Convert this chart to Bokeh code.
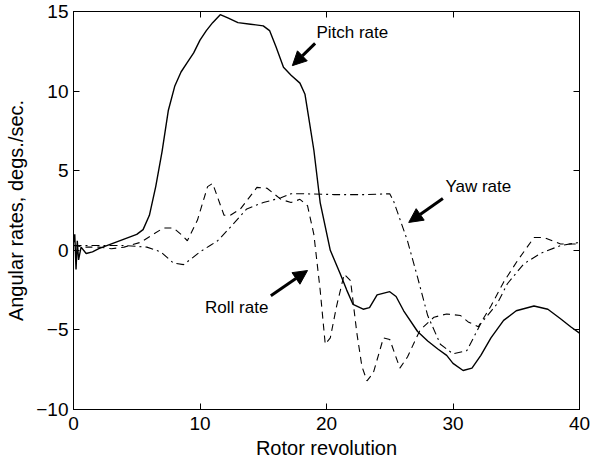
from bokeh.plotting import figure
from bokeh.models import (FixedTicker, LinearAxis, Label, Arrow, NormalHead,
                          Range1d, CustomLabelingPolicy)
from bokeh.embed import file_html
from bokeh.resources import INLINE

FONT = "Liberation Sans"

# ---- data ----
pitch_x = [0, 0.1, 0.2, 0.3, 0.4, 0.6, 1.0, 1.5, 2, 3, 4, 5, 5.5, 6, 6.5, 7, 7.5,
           8, 8.5, 9, 9.5, 10, 10.5, 11, 11.6, 12.2, 13, 14, 15, 15.5, 16, 16.6,
           17.2, 17.9, 18.3, 18.6, 19, 19.5, 20.3, 21.1, 21.6, 22.1, 22.9, 23.4,
           24, 25, 25.5, 26.1, 27.2, 28, 28.8, 29.5, 30, 30.8, 31.5, 32.2, 33,
           34, 35, 36.4, 37.5, 38.5, 39.3, 40]
pitch_y = [0.5, 1.0, -1.2, 0.6, -0.6, 0.2, -0.2, -0.1, 0.1, 0.4, 0.7, 1.0, 1.3,
           2.2, 4.0, 6.2, 8.8, 10.3, 11.2, 11.8, 12.4, 13.2, 13.8, 14.3, 14.8,
           14.6, 14.3, 14.2, 14.1, 13.8, 12.8, 11.5, 11.0, 10.5, 9.8, 8.3, 6.3,
           3.0, 0.0, -1.5, -2.5, -3.4, -3.7, -3.6, -2.8, -2.6, -2.9, -3.8, -5.1,
           -5.7, -6.2, -6.6, -7.1, -7.55, -7.4, -6.6, -5.5, -4.4, -3.8, -3.5,
           -3.7, -4.3, -4.8, -5.2]

roll_x = [0, 1, 2, 3, 4, 5.3, 6.3, 7.1, 7.9, 8.5, 9.0, 9.8, 10.6, 11.0, 11.9,
          12.4, 13.2, 14.5, 15.3, 16.4, 17.2, 17.9, 18.5, 19.0, 19.5, 19.9, 20.3,
          20.8, 21.4, 21.9, 22.4, 22.8, 23.2, 23.7, 24.5, 25.0, 25.8, 26.4, 27.4,
          28.5, 29.5, 30.6, 31.2, 32.0, 33.0, 34.0, 35.1, 36.4, 37.2, 38.5, 40]
roll_y = [0.3, 0.2, 0.2, 0.1, 0.2, 0.5, 1.0, 1.4, 1.4, 1.0, 0.6, 1.9, 4.0, 4.2,
          2.2, 2.2, 2.6, 3.95, 3.9, 3.2, 3.0, 3.2, 2.8, 1.0, -2.5, -5.9, -5.5,
          -3.5, -1.5, -1.9, -5.2, -7.3, -8.2, -7.7, -5.5, -5.6, -7.4, -6.7,
          -5.0, -4.2, -4.0, -4.1, -4.5, -4.8, -3.5, -2.0, -0.65, 0.8, 0.8, 0.4,
          0.4]

yaw_x = [0, 2, 4, 5.8, 6.9, 7.9, 8.7, 9.2, 10.0, 10.8, 11.4, 12.4, 13.7, 15.0,
         16.4, 17.2, 18.2, 20.6, 23, 25.0, 25.3, 26.4, 27.2, 28.0, 29.0, 30.0,
         31.1, 32.2, 33.5, 34.3, 35.6, 36.9, 38.5, 40]
yaw_y = [0.3, 0.3, 0.3, 0.2, -0.1, -0.8, -0.9, -0.6, -0.1, 0.3, 0.6, 1.45, 2.6,
         3.0, 3.3, 3.55, 3.55, 3.5, 3.5, 3.55, 3.1, 0.6, -1.7, -4.1, -5.9, -6.5,
         -6.3, -4.6, -3.35, -2.1, -0.85, -0.2, 0.3, 0.5]

x_ticks = [0, 10, 20, 30, 40]
y_ticks = [-10, -5, 0, 5, 10, 15]
y_tick_labels = {-10: "\u221210", -5: "\u22125", 0: "0", 5: "5", 10: "10", 15: "15"}

# annotations: (text, text x, text y, arrow tail x, tail y, head x, head y)
notes = [
    ("Pitch rate", 19.2, 13.65, 19.1, 13.0, 17.3, 11.6),
    ("Yaw rate", 29.4, 4.0, 29.2, 3.25, 26.5, 1.75),
    ("Roll rate", 10.4, -3.6, 15.6, -2.85, 18.5, -1.27),
]

p = figure(width=591, height=464, output_backend="svg", toolbar_location=None,
           x_range=Range1d(0, 40), y_range=Range1d(-10, 15),
           min_border_left=73, min_border_right=12, min_border_top=11,
           min_border_bottom=55)
p.background_fill_color = "white"
p.border_fill_color = "white"
p.outline_line_color = "black"
p.outline_line_width = 1
p.xgrid.visible = False
p.ygrid.visible = False

for ax, ticks in ((p.xaxis[0], x_ticks), (p.yaxis[0], y_ticks)):
    ax.ticker = FixedTicker(ticks=ticks)
    ax.major_tick_in = 6
    ax.major_tick_out = 0
    ax.minor_tick_line_color = None
    ax.axis_line_color = "black"
    ax.major_tick_line_color = "black"
    ax.major_label_text_font = FONT
    ax.major_label_text_font_size = "19px"
    ax.major_label_text_color = "black"
    ax.axis_label_text_font = FONT
    ax.axis_label_text_font_size = "20px"
    ax.axis_label_text_font_style = "normal"
    ax.axis_label_text_color = "black"

p.yaxis[0].major_label_overrides = y_tick_labels
p.xaxis[0].axis_label = "Rotor revolution"
p.yaxis[0].axis_label = "Angular rates, degs./sec."
p.xaxis[0].major_label_standoff = 7
p.xaxis[0].axis_label_standoff = 4
p.yaxis[0].major_label_standoff = 5
p.yaxis[0].axis_label_standoff = 6

hide_all = CustomLabelingPolicy(
    code="for (const i of Array.from(indices)) { indices.unset(i) } return indices")
top = LinearAxis(ticker=FixedTicker(ticks=x_ticks), major_tick_in=6,
                 major_tick_out=0, minor_tick_line_color=None,
                 major_label_policy=hide_all, major_label_standoff=0,
                 major_label_text_font_size="1px")
right = LinearAxis(ticker=FixedTicker(ticks=y_ticks), major_tick_in=6,
                   major_tick_out=0, minor_tick_line_color=None,
                   major_label_policy=hide_all, major_label_standoff=0,
                   major_label_text_font_size="1px")
p.add_layout(top, "above")
p.add_layout(right, "right")

p.line(pitch_x, pitch_y, line_color="black", line_width=1.4)
p.line(roll_x, roll_y, line_color="black", line_width=1.1, line_dash="7 5")
p.line(yaw_x, yaw_y, line_color="black", line_width=1.1, line_dash="8 4 2 4")

for txt, tx, ty, x0, y0, x1, y1 in notes:
    p.add_layout(Label(x=tx, y=ty, text=txt, text_font=FONT,
                       text_font_size="17px", text_align="left",
                       text_baseline="middle", text_color="black"))
    p.add_layout(Arrow(x_start=x0, y_start=y0, x_end=x1, y_end=y1,
                       line_width=3, line_color="black",
                       end=NormalHead(size=14, fill_color="black",
                                      line_color="black", line_width=1)))

open("out.html", "w").write(file_html(p, INLINE))
